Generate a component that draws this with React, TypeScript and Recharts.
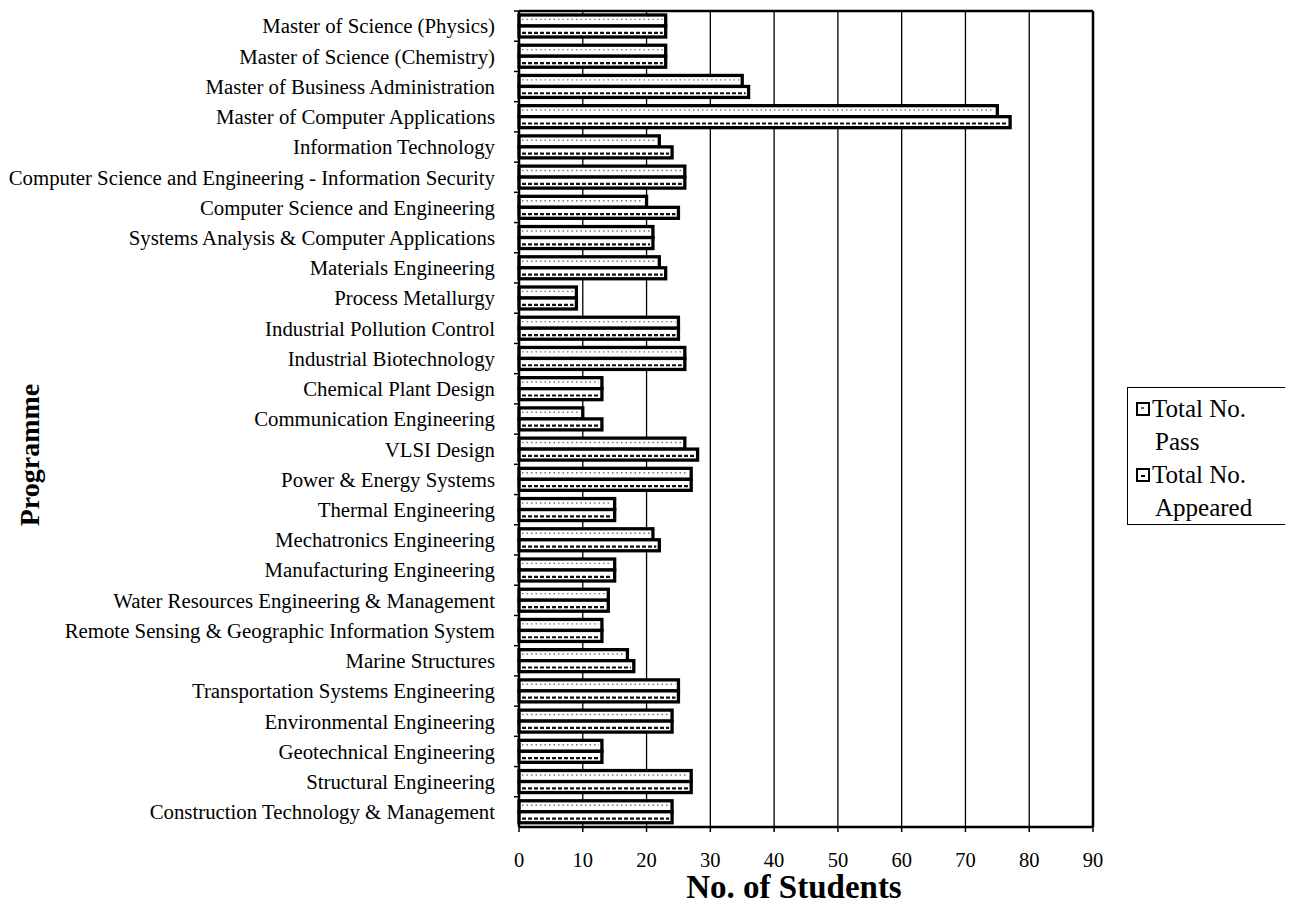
import { BarChart, Bar, XAxis, YAxis, CartesianGrid, Legend, Label } from 'recharts'

const programmes = [
  'Master of Science (Physics)',
  'Master of Science (Chemistry)',
  'Master of Business Administration',
  'Master of Computer Applications',
  'Information Technology',
  'Computer Science and Engineering - Information Security',
  'Computer Science and Engineering',
  'Systems Analysis & Computer Applications',
  'Materials Engineering',
  'Process Metallurgy',
  'Industrial Pollution Control',
  'Industrial Biotechnology',
  'Chemical Plant Design',
  'Communication Engineering',
  'VLSI Design',
  'Power & Energy Systems',
  'Thermal Engineering',
  'Mechatronics Engineering',
  'Manufacturing Engineering',
  'Water Resources Engineering & Management',
  'Remote Sensing & Geographic Information System',
  'Marine Structures',
  'Transportation Systems Engineering',
  'Environmental Engineering',
  'Geotechnical Engineering',
  'Structural Engineering',
  'Construction Technology & Management',
]

const passCounts = [23, 23, 35, 75, 22, 26, 20, 21, 22, 9, 25, 26, 13, 10, 26, 27, 15, 21, 15, 14, 13, 17, 25, 24, 13, 27, 24]
const appearedCounts = [23, 23, 36, 77, 24, 26, 25, 21, 23, 9, 25, 26, 13, 13, 28, 27, 15, 22, 15, 14, 13, 18, 25, 24, 13, 27, 24]

const xTicks = [0, 10, 20, 30, 40, 50, 60, 70, 80, 90]

const data = programmes.map((name, i) => ({ name, pass: passCounts[i], appeared: appearedCounts[i] }))

const SERIF = '"Liberation Serif", "Times New Roman", serif'

// bars: white box, thick black outline, a row of dots / dashes inside
const PassBar = (p: any) => {
  const { x, y, width, height } = p
  if (!width) return null
  return (
    <g>
      <rect x={x} y={y} width={width} height={height} fill="#fff" stroke="#000" strokeWidth={3.3} />
      <line x1={x + 3} x2={x + width - 3} y1={y + height * 0.4} y2={y + height * 0.4}
        stroke="#777" strokeWidth={1.4} strokeDasharray="1.5 3" />
    </g>
  )
}

const AppearedBar = (p: any) => {
  const { x, y, width, height } = p
  if (!width) return null
  return (
    <g>
      <rect x={x} y={y} width={width} height={height} fill="#fff" stroke="#000" strokeWidth={3.3} />
      <line x1={x + 3} x2={x + width - 3} y1={y + height * 0.62} y2={y + height * 0.62}
        stroke="#111" strokeWidth={2.2} strokeDasharray="4 2" />
    </g>
  )
}

const ProgrammeTick = ({ x, y, payload }: any) => (
  <g>
    <text x={x} y={y} dy="0.35em" textAnchor="end" fontSize={20.8} fontFamily={SERIF} fill="#000">
      {payload.value}
    </text>
    <line x1={x + 19} x2={x + 24} y1={y - 15.1} y2={y - 15.1} stroke="#000" strokeWidth={1.5} />
  </g>
)

const Swatch = ({ appeared }: { appeared?: boolean }) => (
  <span style={{
    display: 'inline-block', width: 10, height: 10, border: '2.5px solid #000', background: '#fff',
    position: 'relative', marginRight: 2, verticalAlign: 1,
  }}>
    <span style={{
      position: 'absolute', left: 3, top: appeared ? 5 : 3, width: appeared ? 4 : 3, height: 2,
      background: appeared ? '#000' : '#666',
    }} />
  </span>
)

const LegendBox = () => (
  <div style={{
    width: 166, height: 138, borderLeft: '1.5px solid #000', borderTop: '1.5px solid #000',
    borderBottom: '1.5px solid #000', fontFamily: SERIF, fontSize: 25, lineHeight: '33px',
    color: '#000', padding: '4px 0 0 8px', boxSizing: 'border-box',
  }}>
    <div><Swatch />Total No.</div>
    <div style={{ paddingLeft: 19 }}>Pass</div>
    <div><Swatch appeared />Total No.</div>
    <div style={{ paddingLeft: 19 }}>Appeared</div>
  </div>
)

export default function App() {
  return (
    <BarChart
      width={1285}
      height={897}
      data={data}
      layout="vertical"
      barSize={11}
      barGap={0}
      margin={{ top: 2, right: 199, left: 0, bottom: 0 }}
    >
      <CartesianGrid horizontal={false} stroke="#000" strokeWidth={1.3} />
      <XAxis
        type="number"
        domain={[0, 90]}
        ticks={xTicks}
        interval={0}
        height={78}
        tickSize={5}
        tickMargin={20}
        axisLine={{ stroke: '#000', strokeWidth: 2.5 }}
        tickLine={{ stroke: '#000', strokeWidth: 1.5 }}
        tick={{ fill: '#000', fontSize: 20.5, fontFamily: SERIF }}
      >
        <Label
          content={({ viewBox }: any) => (
            <text x={viewBox.x + 275} y={viewBox.y + 71} textAnchor="middle" fontSize={33}
              fontWeight="bold" fontFamily={SERIF} fill="#000">
              No. of Students
            </text>
          )}
        />
      </XAxis>
      <XAxis
        xAxisId="top"
        orientation="top"
        type="number"
        domain={[0, 90]}
        height={1}
        tick={false}
        tickLine={false}
        axisLine={{ stroke: '#000', strokeWidth: 2.5 }}
      />
      <YAxis
        type="category"
        dataKey="name"
        width={511}
        interval={0}
        tickSize={0}
        tickMargin={24}
        tick={<ProgrammeTick />}
        axisLine={{ stroke: '#000', strokeWidth: 2.5 }}
      >
        <Label
          content={() => (
            <text x={31} y={447} transform="rotate(-90 31 447)" textAnchor="middle" fontSize={28}
              fontWeight="bold" fontFamily={SERIF} fill="#000">
              Programme
            </text>
          )}
        />
      </YAxis>
      <YAxis
        yAxisId="right"
        orientation="right"
        type="category"
        dataKey="name"
        width={1}
        tick={false}
        tickLine={false}
        axisLine={{ stroke: '#000', strokeWidth: 2.5 }}
      />
      <Legend
        layout="horizontal"
        align="center"
        verticalAlign="middle"
        content={() => <LegendBox />}
        wrapperStyle={{ left: 1119, top: 379, width: 166, height: 138 }}
      />
      <Bar dataKey="pass" name="Total No. Pass" shape={PassBar} isAnimationActive={false} />
      <Bar dataKey="appeared" name="Total No. Appeared" shape={AppearedBar} isAnimationActive={false} />
    </BarChart>
  )
}
